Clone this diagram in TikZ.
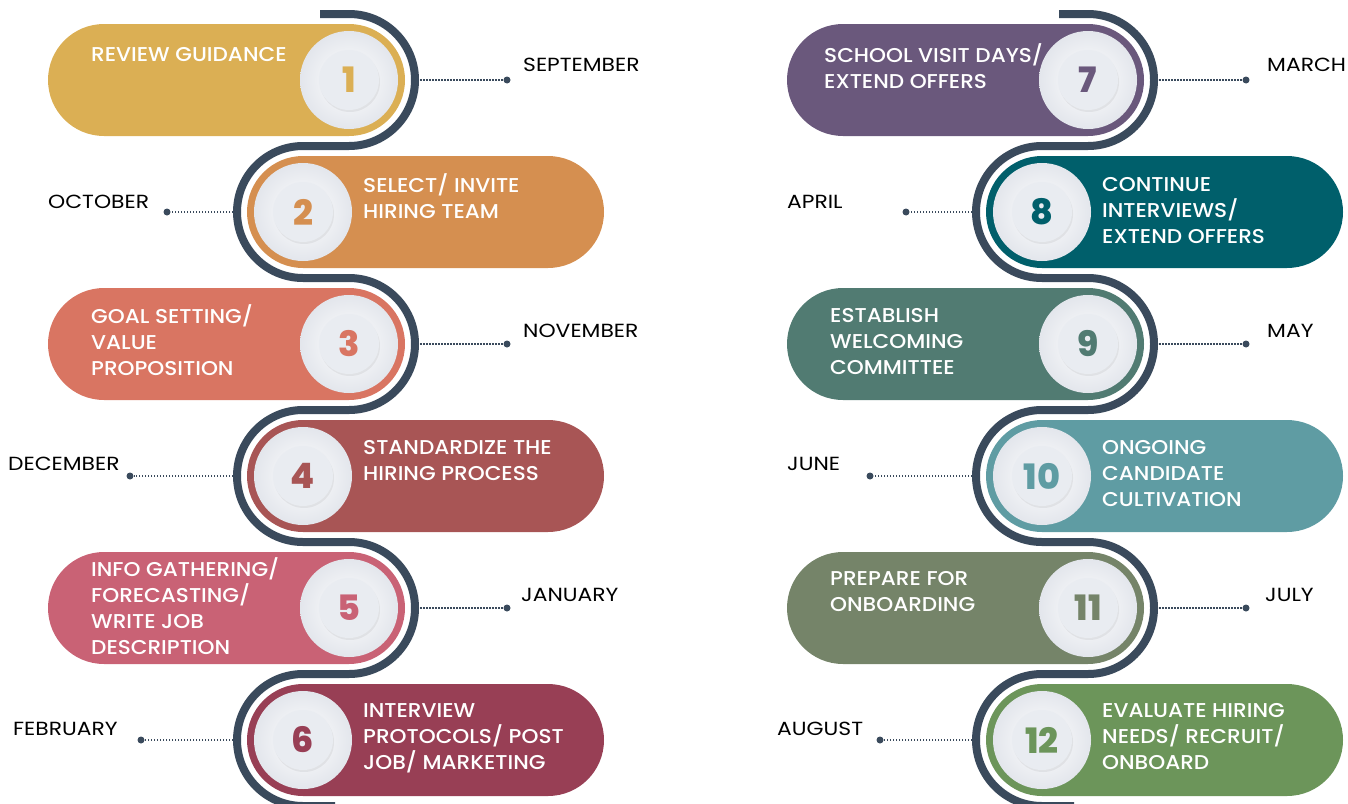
\documentclass[tikz,border=0pt]{standalone}
\usepackage{fontspec}
\setmainfont{Poppins}
\newfontfamily\stepfont{Poppins Medium}[FakeStretch=1.08]
\newfontfamily\numfont{Poppins ExtraBold}
\newfontfamily\monthfont{Poppins}[FakeStretch=1.15]
\usetikzlibrary{positioning,shadows}

\definecolor{trackblue}{HTML}{3A4A5C}
\definecolor{discedge}{HTML}{E3E6EC}
\definecolor{discface}{HTML}{E9ECF1}
\definecolor{stepA}{HTML}{DBAF54}
\definecolor{stepB}{HTML}{D58F50}
\definecolor{stepC}{HTML}{D97562}
\definecolor{stepD}{HTML}{A85555}
\definecolor{stepE}{HTML}{C96275}
\definecolor{stepF}{HTML}{983F55}
\definecolor{stepG}{HTML}{6A587C}
\definecolor{stepH}{HTML}{005F6B}
\definecolor{stepI}{HTML}{517B72}
\definecolor{stepJ}{HTML}{5F9CA3}
\definecolor{stepK}{HTML}{758469}
\definecolor{stepL}{HTML}{6C955A}

\begin{document}
\begin{tikzpicture}[
    x=1pt, y=-1pt,
    pill/.style={rectangle, rounded corners=56pt, minimum width=357pt, minimum height=112pt, inner sep=0pt},
    disc/.style={circle, shading=radial, inner color=white, outer color=discedge, minimum size=98pt, inner sep=0pt},
    num/.style={circle, fill=discface, minimum size=60pt, inner sep=0pt, font=\numfont\fontsize{35}{35}\selectfont,
        drop shadow={opacity=0.12, shadow xshift=1pt, shadow yshift=-2pt}},
    steptext/.style={anchor=north west, align=left, inner sep=0pt, text=white, font=\stepfont\fontsize{20}{26}\selectfont},
    month/.style={anchor=west, inner sep=0pt, font=\monthfont\fontsize{19}{22}\selectfont},
    pin/.style={circle, fill=trackblue, minimum size=7pt, inner sep=0pt},
    dotline/.style={draw=trackblue, line width=1.6pt, dash pattern=on 1.5pt off 1.5pt},
    serpent/.style={draw=trackblue, line width=8pt}
]
\useasboundingbox (0,0) rectangle (1348,803);

% Pills, left column
\node[pill, fill=stepA] (p1) at (226.5,80) {};
\node[pill, fill=stepB] (p2) at (425.5,212) {};
\node[pill, fill=stepC] (p3) at (226.5,344) {};
\node[pill, fill=stepD] (p4) at (425.5,476) {};
\node[pill, fill=stepE] (p5) at (226.5,608) {};
\node[pill, fill=stepF] (p6) at (425.5,740) {};

% Pills, right column
\node[pill, fill=stepG] (p7) at (965.5,80) {};
\node[pill, fill=stepH] (p8) at (1164.5,212) {};
\node[pill, fill=stepI] (p9) at (965.5,344) {};
\node[pill, fill=stepJ] (p10) at (1164.5,476) {};
\node[pill, fill=stepK] (p11) at (965.5,608) {};
\node[pill, fill=stepL] (p12) at (1164.5,740) {};

% Winding track round the discs
\draw[serpent] (320,14) -- (349,14) arc[start angle=90, end angle=-90, radius=66pt]
    -- (303,146) arc[start angle=90, end angle=270, radius=66pt]
    -- (349,278) arc[start angle=90, end angle=-90, radius=66pt]
    -- (303,410) arc[start angle=90, end angle=270, radius=66pt]
    -- (349,542) arc[start angle=90, end angle=-90, radius=66pt]
    -- (303,674) arc[start angle=90, end angle=270, radius=66pt] -- (335,806);
\draw[serpent] (1059,14) -- (1088,14) arc[start angle=90, end angle=-90, radius=66pt]
    -- (1042,146) arc[start angle=90, end angle=270, radius=66pt]
    -- (1088,278) arc[start angle=90, end angle=-90, radius=66pt]
    -- (1042,410) arc[start angle=90, end angle=270, radius=66pt]
    -- (1088,542) arc[start angle=90, end angle=-90, radius=66pt]
    -- (1042,674) arc[start angle=90, end angle=270, radius=66pt] -- (1074,806);

% Discs with step numbers
\node[disc] (c1) at (349,80) {};
\node[disc] (c2) at (303,212) {};
\node[disc] (c3) at (349,344) {};
\node[disc] (c4) at (303,476) {};
\node[disc] (c5) at (349,608) {};
\node[disc] (c6) at (303,740) {};
\node[disc] (c7) at (1088,80) {};
\node[disc] (c8) at (1042,212) {};
\node[disc] (c9) at (1088,344) {};
\node[disc] (c10) at (1042,476) {};
\node[disc] (c11) at (1088,608) {};
\node[disc] (c12) at (1042,740) {};

\node[num, text=stepA] (n1) at (c1) {1};
\node[num, text=stepB] (n2) at (c2) {2};
\node[num, text=stepC] (n3) at (c3) {3};
\node[num, text=stepD] (n4) at (c4) {4};
\node[num, text=stepE] (n5) at (c5) {5};
\node[num, text=stepF] (n6) at (c6) {6};
\node[num, text=stepG] (n7) at (c7) {7};
\node[num, text=stepH] (n8) at (c8) {8};
\node[num, text=stepI] (n9) at (c9) {9};
\node[num, text=stepJ] (n10) at (c10) {10};
\node[num, text=stepK] (n11) at (c11) {11};
\node[num, text=stepL] (n12) at (c12) {12};

% Step texts (first lines with a slash sit a little higher)
\node[steptext] (s1) at (91,47) {REVIEW GUIDANCE};
\node[steptext] (s2) at (363,173) {SELECT/ INVITE\\HIRING TEAM};
\node[steptext] (s3) at (91,304) {GOAL SETTING/\\VALUE\\PROPOSITION};
\node[steptext] (s4) at (363,440) {STANDARDIZE THE\\HIRING PROCESS};
\node[steptext] (s5) at (91,557) {INFO GATHERING/\\FORECASTING/\\WRITE JOB\\DESCRIPTION};
\node[steptext] (s6) at (363,703) {INTERVIEW\\PROTOCOLS/ POST\\JOB/ MARKETING};
\node[steptext] (s7) at (824,43) {SCHOOL VISIT DAYS/\\EXTEND OFFERS};
\node[steptext] (s8) at (1102,177) {CONTINUE\\INTERVIEWS/\\EXTEND OFFERS};
\node[steptext] (s9) at (830,308) {ESTABLISH\\WELCOMING\\COMMITTEE};
\node[steptext] (s10) at (1102,440) {ONGOING\\CANDIDATE\\CULTIVATION};
\node[steptext] (s11) at (830,571) {PREPARE FOR\\ONBOARDING};
\node[steptext] (s12) at (1102,703) {EVALUATE HIRING\\NEEDS/ RECRUIT/\\ONBOARD};

% Month pins and their track ends
\node[pin] (d1) at (507,80) {};
\node[pin] (d2) at (167,212) {};
\node[pin] (d3) at (507,344) {};
\node[pin] (d4) at (130,476) {};
\node[pin] (d5) at (507,608) {};
\node[pin] (d6) at (141,740) {};
\node[pin] (d7) at (1246,80) {};
\node[pin] (d8) at (906,212) {};
\node[pin] (d9) at (1246,344) {};
\node[pin] (d10) at (870,476) {};
\node[pin] (d11) at (1246,608) {};
\node[pin] (d12) at (880,740) {};

\coordinate (t1) at (420,80);
\coordinate (t2) at (233,212);
\coordinate (t3) at (420,344);
\coordinate (t4) at (233,476);
\coordinate (t5) at (420,608);
\coordinate (t6) at (233,740);
\coordinate (t7) at (1159,80);
\coordinate (t8) at (972,212);
\coordinate (t9) at (1159,344);
\coordinate (t10) at (972,476);
\coordinate (t11) at (1159,608);
\coordinate (t12) at (972,740);

\draw[dotline] (t1) -- (d1);
\draw[dotline] (t2) -- (d2);
\draw[dotline] (t3) -- (d3);
\draw[dotline] (t4) -- (d4);
\draw[dotline] (t5) -- (d5);
\draw[dotline] (t6) -- (d6);
\draw[dotline] (t7) -- (d7);
\draw[dotline] (t8) -- (d8);
\draw[dotline] (t9) -- (d9);
\draw[dotline] (t10) -- (d10);
\draw[dotline] (t11) -- (d11);
\draw[dotline] (t12) -- (d12);

% Month labels
\node[month] (m1) at (523,65) {SEPTEMBER};
\node[month] (m2) at (48,202) {OCTOBER};
\node[month] (m3) at (523,331) {NOVEMBER};
\node[month] (m4) at (8,464) {DECEMBER};
\node[month] (m5) at (521,595) {JANUARY};
\node[month] (m6) at (13,729) {FEBRUARY};
\node[month] (m7) at (1267,65) {MARCH};
\node[month] (m8) at (787,202) {APRIL};
\node[month] (m9) at (1267,331) {MAY};
\node[month] (m10) at (787,464) {JUNE};
\node[month] (m11) at (1265,595) {JULY};
\node[month] (m12) at (777,729) {AUGUST};

\end{tikzpicture}
\end{document}
